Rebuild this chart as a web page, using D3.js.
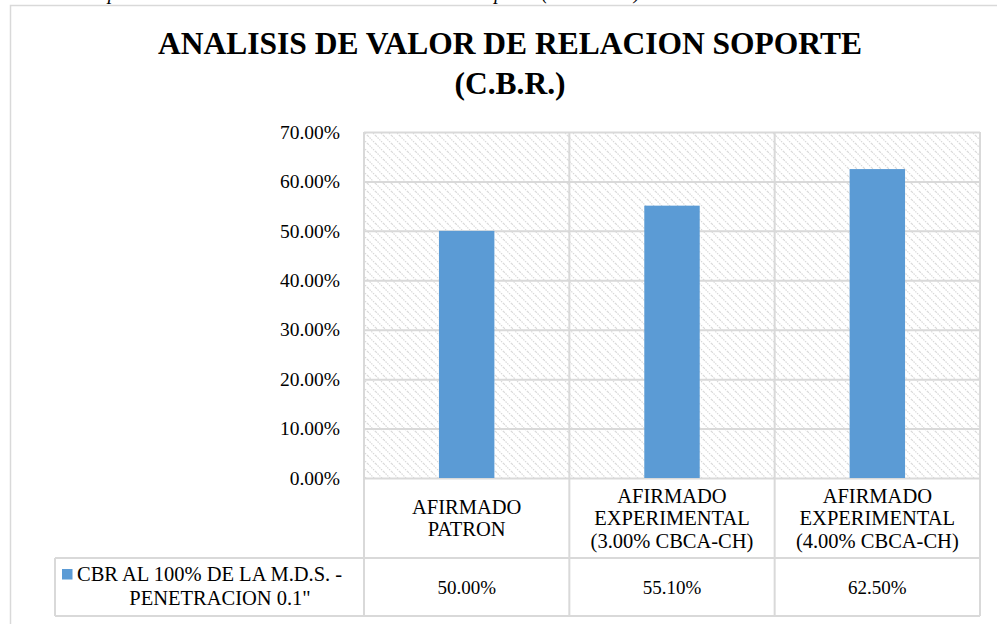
<!DOCTYPE html>
<html>
<head>
<meta charset="utf-8">
<script src="https://cdn.jsdelivr.net/npm/d3@7"></script>
<style>
	html, body { margin: 0; padding: 0; background: #fff; }
	svg { display: block; }
	svg text { font-family: "Liberation Serif", "DejaVu Serif", serif; }
</style>
</head>
<body>
<svg id="chart" width="997" height="624"></svg>
<script>
// chart data
const categories = ['patron', 'exp3', 'exp4'];
const categoryLines = [
	['AFIRMADO', 'PATRON'],
	['AFIRMADO', 'EXPERIMENTAL', '(3.00% CBCA-CH)'],
	['AFIRMADO', 'EXPERIMENTAL', '(4.00% CBCA-CH)']
];
const cbrValues = [50.00, 55.10, 62.50];
const yTicks = [0, 10, 20, 30, 40, 50, 60, 70];
const seriesName = ['CBR AL 100% DE LA M.D.S. -', 'PENETRACION 0.1"'];
const titleLines = ['ANALISIS DE VALOR DE RELACION SOPORTE', '(C.B.R.)'];

const svg = d3.select('#chart');
const serif = 'Liberation Serif, DejaVu Serif, serif';
const grid_color = '#d9d9d9';
const bar_color = '#5b9bd5';

// layout
const plot = { left: 364, right: 980, top: 132, bottom: 478 };
const catRowBottom = 558;
const valRowBottom = 616;
const legendLeft = 55;

// caption of the document, cut by the top of the picture
svg.append('text')
	.attr('x', 70)
	.attr('y', -1)
	.attr('font-family', serif)
	.attr('font-size', 20)
	.attr('font-style', 'italic')
	.text('Comparación de resultados del Valor de Relación Soporte (CBCA-CH)');

// outer frame
svg.append('rect')
	.attr('x', 10.5).attr('y', 5.5)
	.attr('width', 1000).attr('height', 700)
	.attr('fill', 'white')
	.attr('stroke', grid_color)
	.attr('stroke-width', 1.5);

// title
svg.append('text')
	.attr('text-anchor', 'middle')
	.attr('font-family', serif)
	.attr('font-size', 31.5)
	.attr('font-weight', 'bold')
	.selectAll('tspan')
	.data(titleLines)
	.join('tspan')
	.attr('x', 510)
	.attr('y', (d, i) => 54 + i * 40)
	.text(d => d);

// scales
const x = d3.scaleBand()
	.domain(categories)
	.range([plot.left, plot.right])
	.padding(0);

const y = d3.scaleLinear()
	.domain([0, 70])
	.range([plot.bottom, plot.top]);

// hatch pattern for plot background
const defs = svg.append('defs');
const pat = defs.append('pattern')
	.attr('id', 'hatch')
	.attr('patternUnits', 'userSpaceOnUse')
	.attr('width', 8).attr('height', 8);
pat.append('path')
	.attr('d', 'M-2,-2 L10,10 M-2,6 L2,10 M6,-2 L10,2')
	.attr('stroke', '#d8d8d8')
	.attr('stroke-width', 1.2)
	.attr('stroke-dasharray', '1.5,1');

svg.append('rect')
	.attr('x', plot.left).attr('y', plot.top)
	.attr('width', plot.right - plot.left)
	.attr('height', plot.bottom - plot.top)
	.attr('fill', 'url(#hatch)');

// y axis with gridlines
const yAxis = svg.append('g')
	.attr('transform', `translate(${plot.left},0)`)
	.call(d3.axisLeft(y)
		.tickValues(yTicks)
		.tickSize(-(plot.right - plot.left))
		.tickPadding(24)
		.tickFormat(d => d.toFixed(2) + '%'))
	.attr('font-family', serif)
	.attr('font-size', 19.5);

yAxis.select('.domain').remove();
yAxis.selectAll('.tick line')
	.attr('stroke', grid_color)
	.attr('stroke-width', 2);
yAxis.selectAll('.tick text')
	.attr('fill', '#000');

// vertical lines at category boundaries (plot + data table)
const bounds = categories.map(c => x(c)).concat([x(categories[categories.length - 1]) + x.bandwidth()]);
svg.selectAll('.vline')
	.data(bounds)
	.join('line')
	.attr('class', 'vline')
	.attr('x1', d => d).attr('x2', d => d)
	.attr('y1', plot.top)
	.attr('y2', valRowBottom)
	.attr('stroke', grid_color)
	.attr('stroke-width', 2);

// table horizontal lines
const hlines = [
	{ y: catRowBottom, x1: legendLeft, x2: plot.right },
	{ y: valRowBottom, x1: legendLeft, x2: plot.right }
];
svg.selectAll('.hline')
	.data(hlines)
	.join('line')
	.attr('class', 'hline')
	.attr('x1', d => d.x1).attr('x2', d => d.x2)
	.attr('y1', d => d.y).attr('y2', d => d.y)
	.attr('stroke', grid_color)
	.attr('stroke-width', 2);

svg.append('line')
	.attr('x1', legendLeft).attr('x2', legendLeft)
	.attr('y1', catRowBottom).attr('y2', valRowBottom)
	.attr('stroke', grid_color)
	.attr('stroke-width', 2);

// bars
const barW = x.bandwidth() * 0.27;
svg.selectAll('.bar')
	.data(cbrValues)
	.join('rect')
	.attr('class', 'bar')
	.attr('x', (d, i) => x(categories[i]) + (x.bandwidth() - barW) / 2)
	.attr('y', d => y(d))
	.attr('width', barW)
	.attr('height', d => y(0) - y(d))
	.attr('fill', bar_color);

// category labels in table
const catMid = (plot.bottom + catRowBottom) / 2;
const lineH = 22.5;
categoryLines.forEach((lines, i) => {
	const cx = x(categories[i]) + x.bandwidth() / 2;
	const firstBase = catMid + 7 - (lines.length - 1) * lineH / 2;
	svg.append('text')
		.attr('text-anchor', 'middle')
		.attr('font-family', serif)
		.attr('font-size', 20.5)
		.selectAll('tspan')
		.data(lines)
		.join('tspan')
		.attr('x', cx)
		.attr('y', (d, j) => firstBase + j * lineH)
		.text(d => d);
});

// value row
const valMid = (catRowBottom + valRowBottom) / 2;
svg.selectAll('.val')
	.data(cbrValues)
	.join('text')
	.attr('class', 'val')
	.attr('x', (d, i) => x(categories[i]) + x.bandwidth() / 2)
	.attr('y', valMid + 7)
	.attr('text-anchor', 'middle')
	.attr('font-family', serif)
	.attr('font-size', 19)
	.text(d => d.toFixed(2) + '%');

// legend cell
svg.append('rect')
	.attr('x', 62).attr('y', 569)
	.attr('width', 10.5).attr('height', 10.5)
	.attr('fill', bar_color);

svg.append('text')
	.attr('x', 77).attr('y', 581)
	.attr('font-family', serif)
	.attr('font-size', 20.5)
	.text(seriesName[0]);

svg.append('text')
	.attr('x', 220).attr('y', 605)
	.attr('text-anchor', 'middle')
	.attr('font-family', serif)
	.attr('font-size', 20.5)
	.text(seriesName[1]);
</script>
</body>
</html>
